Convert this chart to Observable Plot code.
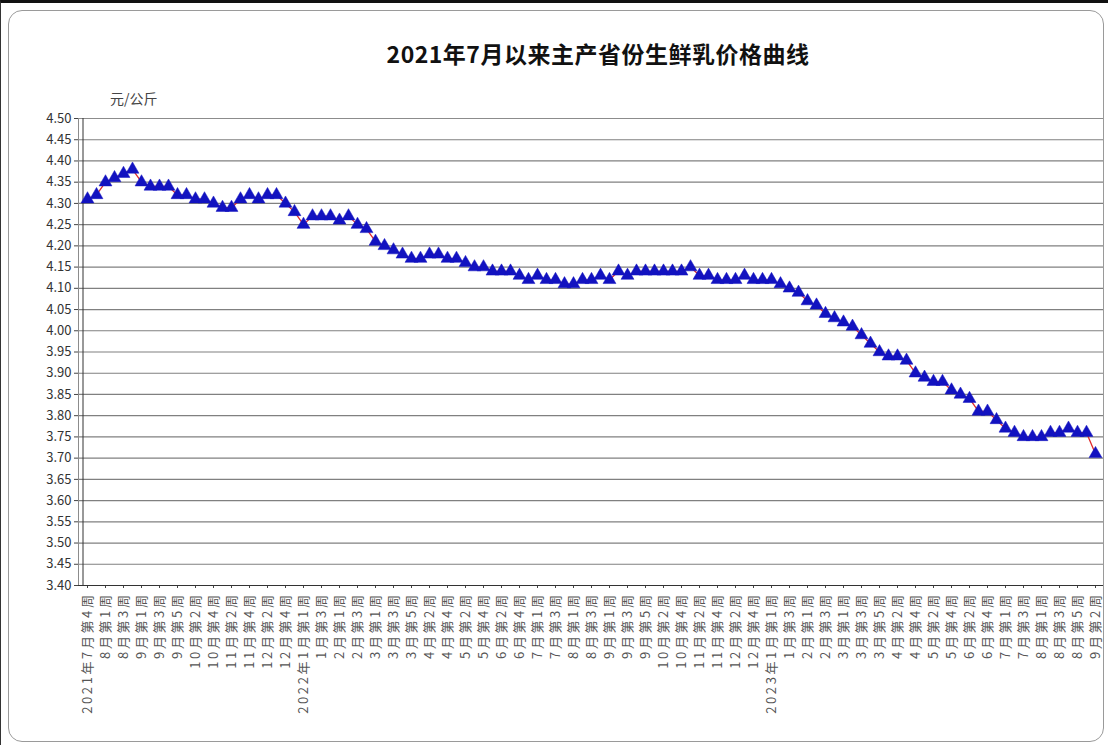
<!DOCTYPE html>
<html><head><meta charset="utf-8">
<script src="https://cdn.jsdelivr.net/npm/d3@7"></script>
<script src="https://cdn.jsdelivr.net/npm/@observablehq/plot@0.6"></script>
<style>
html,body{margin:0;padding:0;background:#fff;}
#wrap{position:relative;width:1108px;height:745px;overflow:hidden;background:#fff;}
#chart{position:absolute;left:0;top:0;}
#outer{position:absolute;left:0;top:0;width:1108px;height:745px;border-top:3px solid #111;border-left:1px solid #333;box-sizing:border-box;pointer-events:none;}
#frame{position:absolute;left:8px;top:10px;width:1096px;height:732px;border:1.5px solid #9a9a9a;border-radius:14px;box-sizing:border-box;pointer-events:none;}
#title{position:absolute;left:0;width:1196px;top:36px;text-align:center;font:bold 23px "Noto Sans CJK SC";letter-spacing:0.5px;color:#111;}
#unit{position:absolute;left:110px;top:88px;font:14px "Noto Sans CJK SC";color:#444;}
#chart svg g[aria-label="x-axis tick label"] text{letter-spacing:2.6px;}
</style>
</head><body>
<div id="wrap">
  <div id="chart"></div>
  <div id="title">2021年7月以来主产省份生鲜乳价格曲线</div>
  <div id="unit">元/公斤</div>
  <div id="outer"></div>
  <div id="frame"></div>
</div>
<script>
// Tick labels on the category axis (one label every second week)
const xTickLabels = [
  "2021年7月第4周","8月第1周","8月第3周","9月第1周","9月第3周","9月第5周","10月第2周","10月第4周","11月第2周","11月第4周","12月第2周","12月第4周",
  "2022年1月第1周","1月第3周","2月第1周","2月第3周","3月第1周","3月第3周","3月第5周","4月第2周","4月第4周","5月第2周","5月第4周","6月第2周","6月第4周","7月第1周","7月第3周","8月第1周","8月第3周","9月第1周","9月第3周","9月第5周","10月第2周","10月第4周","11月第2周","11月第4周","12月第2周","12月第4周",
  "2023年1月第1周","1月第3周","2月第1周","2月第3周","3月第1周","3月第3周","3月第5周","4月第2周","4月第4周","5月第2周","5月第4周","6月第2周","6月第4周","7月第1周","7月第3周","8月第1周","8月第3周","8月第5周","9月第2周"
];
// Weekly price of raw milk, 元/公斤
const prices = [
  4.31, 4.32, 4.35, 4.36, 4.37, 4.38, 4.35, 4.34, 4.34, 4.34,
  4.32, 4.32, 4.31, 4.31, 4.30, 4.29, 4.29, 4.31, 4.32, 4.31,
  4.32, 4.32, 4.30, 4.28, 4.25, 4.27, 4.27, 4.27, 4.26, 4.27,
  4.25, 4.24, 4.21, 4.20, 4.19, 4.18, 4.17, 4.17, 4.18, 4.18,
  4.17, 4.17, 4.16, 4.15, 4.15, 4.14, 4.14, 4.14, 4.13, 4.12,
  4.13, 4.12, 4.12, 4.11, 4.11, 4.12, 4.12, 4.13, 4.12, 4.14,
  4.13, 4.14, 4.14, 4.14, 4.14, 4.14, 4.14, 4.15, 4.13, 4.13,
  4.12, 4.12, 4.12, 4.13, 4.12, 4.12, 4.12, 4.11, 4.10, 4.09,
  4.07, 4.06, 4.04, 4.03, 4.02, 4.01, 3.99, 3.97, 3.95, 3.94,
  3.94, 3.93, 3.90, 3.89, 3.88, 3.88, 3.86, 3.85, 3.84, 3.81,
  3.81, 3.79, 3.77, 3.76, 3.75, 3.75, 3.75, 3.76, 3.76, 3.77,
  3.76, 3.76, 3.71
];
const yTicks = [3.40,3.45,3.50,3.55,3.60,3.65,3.70,3.75,3.80,3.85,3.90,3.95,4.00,4.05,4.10,4.15,4.20,4.25,4.30,4.35,4.40,4.45,4.50];

const data = prices.map((v, i) => ({week: i, price: v}));
const weekIdx = data.map(d => d.week);
const xTicks = weekIdx.filter(i => i % 2 === 0);

const chart = Plot.plot({
  width: 1108,
  height: 745,
  marginLeft: 78,
  marginRight: 5,
  marginTop: 118,
  marginBottom: 160,
  style: {fontFamily: "Noto Sans CJK SC", fontSize: "12px", color: "#444", background: "transparent"},
  x: {type: "point", domain: weekIdx, padding: 0.5, align: 0.5},
  y: {domain: [3.40, 4.50]},
  marks: [
    Plot.gridY(yTicks, {stroke: "#808080", strokeOpacity: 1, strokeWidth: 1.2}),
    Plot.frame({stroke: "#8c8c8c"}),
    Plot.axisY({ticks: yTicks, tickFormat: d => d.toFixed(2), tickSize: 4, tickPadding: 3, label: null, fontSize: 13, fill: "#333"}),
    Plot.axisX({ticks: xTicks, tickFormat: i => xTickLabels[i / 2], tickRotate: -90, tickSize: 3, tickPadding: 4, label: null, fontSize: 13, fill: "#555"}),
    Plot.ruleX([0], {x: () => weekIdx[0], dx: -4.5, stroke: "#333"}),
    Plot.ruleY([3.40], {stroke: "#333"}),
    Plot.line(data, {x: "week", y: "price", stroke: "#e02a2a", strokeWidth: 1.3}),
    Plot.dot(data, {x: "week", y: "price", symbol: "triangle", r: 4.8, fill: "#1212c0", stroke: "#1212c0", strokeWidth: 0.5})
  ]
});
document.getElementById("chart").appendChild(chart);
</script>
</body></html>
